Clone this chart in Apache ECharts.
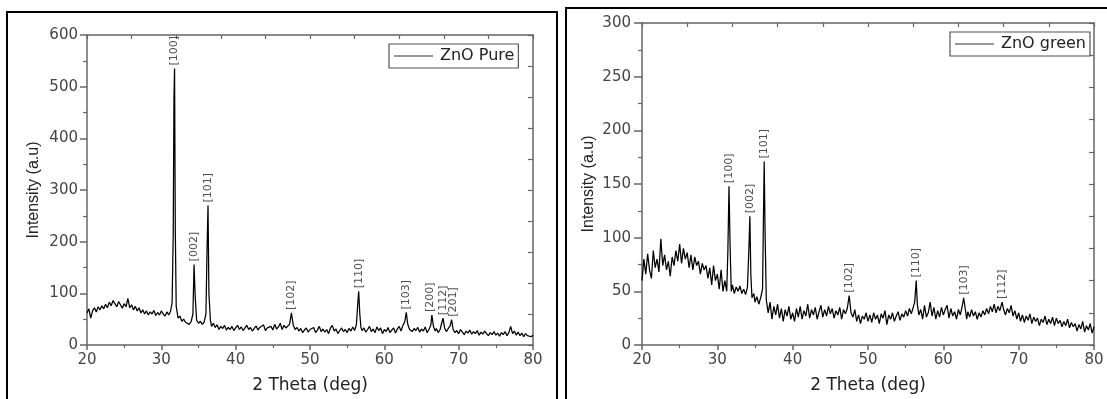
<!DOCTYPE html>
<html>
<head>
<meta charset="utf-8">
<title>ZnO XRD</title>
<script src="https://cdn.jsdelivr.net/npm/echarts@6/dist/echarts.min.js"></script>
<style>
  html, body { margin: 0; padding: 0; background: #fff; }
  #chart { width: 1107px; height: 399px; }
</style>
</head>
<body>
<div id="chart"></div>
<script>
// ZnO Pure scan (2 theta, intensity)
const pureTheta = [
  20.00, 20.25, 20.50, 20.75, 21.00, 21.25, 21.50, 21.75, 22.00, 22.25, 22.50, 22.75,
  23.00, 23.25, 23.50, 23.75, 24.00, 24.25, 24.50, 24.75, 25.00, 25.25, 25.50, 25.75,
  26.00, 26.25, 26.50, 26.75, 27.00, 27.25, 27.50, 27.75, 28.00, 28.25, 28.50, 28.75,
  29.00, 29.25, 29.50, 29.75, 30.00, 30.25, 30.50, 30.75, 31.00, 31.25, 31.45, 31.60,
  31.70, 31.78, 31.88, 32.00, 32.25, 32.50, 32.75, 33.00, 33.25, 33.50, 33.75, 34.00,
  34.25, 34.40, 34.55, 34.75, 35.00, 35.25, 35.50, 35.75, 36.00, 36.15, 36.28, 36.40,
  36.60, 36.75, 37.00, 37.25, 37.50, 37.75, 38.00, 38.25, 38.50, 38.75, 39.00, 39.25,
  39.50, 39.75, 40.00, 40.25, 40.50, 40.75, 41.00, 41.25, 41.50, 41.75, 42.00, 42.25,
  42.50, 42.75, 43.00, 43.25, 43.50, 43.75, 44.00, 44.25, 44.50, 44.75, 45.00, 45.25,
  45.50, 45.75, 46.00, 46.25, 46.50, 46.75, 47.00, 47.25, 47.50, 47.75, 48.00, 48.25,
  48.50, 48.75, 49.00, 49.25, 49.50, 49.75, 50.00, 50.25, 50.50, 50.75, 51.00, 51.25,
  51.50, 51.75, 52.00, 52.25, 52.50, 52.75, 53.00, 53.25, 53.50, 53.75, 54.00, 54.25,
  54.50, 54.75, 55.00, 55.25, 55.50, 55.75, 56.00, 56.25, 56.40, 56.55, 56.70, 56.85,
  57.00, 57.25, 57.50, 57.75, 58.00, 58.25, 58.50, 58.75, 59.00, 59.25, 59.50, 59.75,
  60.00, 60.25, 60.50, 60.75, 61.00, 61.25, 61.50, 61.75, 62.00, 62.25, 62.50, 62.75,
  62.95, 63.15, 63.40, 63.75, 64.00, 64.25, 64.50, 64.75, 65.00, 65.25, 65.50, 65.75,
  66.00, 66.25, 66.40, 66.60, 66.85, 67.00, 67.25, 67.50, 67.75, 67.90, 68.10, 68.35,
  68.60, 68.85, 69.05, 69.25, 69.50, 69.75, 70.00, 70.25, 70.50, 70.75, 71.00, 71.25,
  71.50, 71.75, 72.00, 72.25, 72.50, 72.75, 73.00, 73.25, 73.50, 73.75, 74.00, 74.25,
  74.50, 74.75, 75.00, 75.25, 75.50, 75.75, 76.00, 76.25, 76.50, 76.75, 77.00, 77.25,
  77.50, 77.75, 78.00, 78.25, 78.50, 78.75, 79.00, 79.25, 79.50, 79.75, 80.00
];
const pureIntensity = [
  62, 70, 52, 66, 72, 64, 74, 68, 76, 70, 79, 72,
  83, 76, 86, 80, 74, 84, 78, 71, 80, 74, 90, 72,
  78, 68, 75, 66, 72, 62, 68, 60, 66, 58, 64, 60,
  67, 57, 63, 58, 66, 60, 56, 64, 58, 66, 82, 215,
  480, 535, 220, 75, 52, 56, 46, 50, 44, 47, 40, 45,
  60, 156, 95, 48, 42, 46, 40, 44, 60, 185, 270, 100,
  48, 36, 42, 34, 39, 30, 36, 32, 38, 29, 34, 30,
  36, 28, 33, 38, 30, 35, 28, 33, 38, 30, 34, 27,
  32, 37, 29, 34, 31, 39, 28, 33, 30, 36, 29, 40,
  31, 35, 42, 30, 38, 33, 36, 40, 62, 38, 30, 34,
  27, 32, 24, 29, 33, 25, 30, 27, 34, 24, 29, 36,
  26, 31, 25, 30, 22, 33, 38, 27, 31, 22, 28, 33,
  26, 30, 24, 32, 27, 35, 28, 40, 75, 104, 60, 34,
  28, 33, 25, 30, 36, 26, 31, 24, 35, 28, 33, 22,
  30, 26, 34, 24, 29, 33, 23, 31, 36, 27, 38, 45,
  63, 40, 30, 26, 32, 28, 34, 25, 31, 27, 35, 24,
  30, 38, 58, 36, 27, 32, 24, 30, 44, 52, 33, 26,
  32, 37, 49, 30, 24, 28, 22, 30, 25, 20, 27, 23,
  29, 21, 26, 22, 28, 19, 25, 21, 27, 22, 18, 24,
  20, 26, 19, 23, 17, 24, 20, 26, 18, 24, 36, 22,
  27, 19, 25, 18, 23, 16, 22, 18, 21, 16, 19
];
const pureHkl = ['[100]', '[002]', '[101]', '[102]', '[110]', '[103]', '[200]', '[112]', '[201]'];
const pureHklTheta = [31.78, 34.40, 36.28, 47.50, 56.55, 62.95, 66.10, 67.90, 69.20];
const pureHklPeak = [535, 156, 270, 62, 104, 63, 58, 52, 49];

// ZnO green scan (2 theta, intensity)
const greenTheta = [
  20.00, 20.25, 20.50, 20.75, 21.00, 21.25, 21.50, 21.75, 22.00, 22.25, 22.50, 22.75,
  23.00, 23.25, 23.50, 23.75, 24.00, 24.25, 24.50, 24.75, 25.00, 25.25, 25.50, 25.75,
  26.00, 26.25, 26.50, 26.75, 27.00, 27.25, 27.50, 27.75, 28.00, 28.25, 28.50, 28.75,
  29.00, 29.25, 29.50, 29.75, 30.00, 30.25, 30.50, 30.75, 31.00, 31.25, 31.40, 31.55,
  31.70, 31.85, 32.00, 32.25, 32.50, 32.75, 33.00, 33.25, 33.50, 33.75, 34.00, 34.20,
  34.32, 34.45, 34.60, 34.85, 35.00, 35.25, 35.50, 35.75, 36.00, 36.12, 36.22, 36.35,
  36.50, 36.75, 37.00, 37.25, 37.50, 37.75, 38.00, 38.25, 38.50, 38.75, 39.00, 39.25,
  39.50, 39.75, 40.00, 40.25, 40.50, 40.75, 41.00, 41.25, 41.50, 41.75, 42.00, 42.25,
  42.50, 42.75, 43.00, 43.25, 43.50, 43.75, 44.00, 44.25, 44.50, 44.75, 45.00, 45.25,
  45.50, 45.75, 46.00, 46.25, 46.50, 46.75, 47.00, 47.25, 47.50, 47.75, 48.00, 48.25,
  48.50, 48.75, 49.00, 49.25, 49.50, 49.75, 50.00, 50.25, 50.50, 50.75, 51.00, 51.25,
  51.50, 51.75, 52.00, 52.25, 52.50, 52.75, 53.00, 53.25, 53.50, 53.75, 54.00, 54.25,
  54.50, 54.75, 55.00, 55.25, 55.50, 55.75, 56.00, 56.20, 56.40, 56.55, 56.75, 57.00,
  57.25, 57.50, 57.75, 58.00, 58.25, 58.50, 58.75, 59.00, 59.25, 59.50, 59.75, 60.00,
  60.25, 60.50, 60.75, 61.00, 61.25, 61.50, 61.75, 62.00, 62.25, 62.50, 62.70, 62.90,
  63.10, 63.25, 63.50, 63.75, 64.00, 64.25, 64.50, 64.75, 65.00, 65.25, 65.50, 65.75,
  66.00, 66.25, 66.50, 66.75, 67.00, 67.25, 67.50, 67.80, 68.00, 68.25, 68.50, 68.75,
  69.00, 69.25, 69.50, 69.75, 70.00, 70.25, 70.50, 70.75, 71.00, 71.25, 71.50, 71.75,
  72.00, 72.25, 72.50, 72.75, 73.00, 73.25, 73.50, 73.75, 74.00, 74.25, 74.50, 74.75,
  75.00, 75.25, 75.50, 75.75, 76.00, 76.25, 76.50, 76.75, 77.00, 77.25, 77.50, 77.75,
  78.00, 78.25, 78.50, 78.75, 79.00, 79.25, 79.50, 79.75, 80.00
];
const greenIntensity = [
  60, 80, 66, 85, 70, 62, 88, 72, 80, 68, 99, 74,
  84, 70, 78, 64, 82, 74, 88, 78, 94, 76, 90, 80,
  86, 72, 84, 70, 82, 74, 78, 66, 76, 70, 74, 62,
  72, 56, 74, 60, 66, 52, 70, 50, 60, 50, 88, 148,
  90, 50, 56, 48, 54, 50, 55, 48, 52, 47, 54, 92,
  120, 65, 44, 48, 40, 45, 38, 44, 52, 117, 171, 100,
  42, 30, 40, 24, 36, 28, 38, 25, 34, 22, 33, 27,
  36, 24, 30, 22, 34, 26, 36, 24, 32, 27, 38, 25,
  33, 28, 35, 24, 31, 37, 26, 33, 27, 36, 29, 34,
  25, 32, 28, 35, 24, 33, 29, 34, 46, 30, 26, 33,
  22, 28, 20, 27, 24, 30, 22, 28, 21, 30, 24, 28,
  20, 29, 25, 32, 19, 28, 24, 30, 22, 27, 31, 23,
  29, 26, 32, 27, 34, 29, 35, 40, 60, 38, 28, 33,
  24, 37, 26, 30, 40, 27, 35, 24, 32, 26, 35, 28,
  33, 37, 25, 34, 27, 31, 24, 33, 28, 36, 44, 34,
  24, 31, 26, 33, 27, 31, 24, 30, 26, 32, 28, 34,
  29, 36, 31, 38, 30, 36, 32, 40, 33, 28, 34, 30,
  37, 27, 32, 24, 30, 22, 28, 21, 27, 23, 29, 20,
  26, 22, 25, 18, 24, 21, 27, 19, 24, 20, 26, 18,
  25, 20, 23, 17, 22, 18, 24, 16, 21, 17, 20, 13,
  19, 15, 22, 12, 18, 14, 20, 11, 17
];
const greenHkl = ['[100]', '[002]', '[101]', '[102]', '[110]', '[103]', '[112]'];
const greenHklTheta = [31.55, 34.32, 36.22, 47.50, 56.40, 62.70, 67.80];
const greenHklPeak = [148, 120, 171, 46, 60, 44, 40];

const axisColor = '#666';
const tickFont = { fontFamily: 'DejaVu Sans', fontSize: 15, color: '#444' };

function pairs(xs, ys) {
  return xs.map((x, i) => [x, ys[i]]);
}

function hklPoints(names, xs, ys) {
  return names.map((n, i) => ({ name: n, value: [xs[i], ys[i]] }));
}

function mainX(gridIndex, tickLen) {
  return {
    type: 'value', gridIndex: gridIndex, position: 'bottom',
    min: 20, max: 80, interval: 10,
    name: '2 Theta (deg)', nameLocation: 'middle', nameGap: 32,
    nameTextStyle: { fontFamily: 'DejaVu Sans', fontSize: 17, color: '#222' },
    axisLine: { show: true, onZero: false, lineStyle: { color: axisColor, width: 1.5 } },
    axisTick: { show: true, inside: false, length: tickLen, lineStyle: { color: axisColor, width: 1.5 } },
    minorTick: { show: true, splitNumber: 2, length: 3, lineStyle: { color: axisColor, width: 1.2 } },
    axisLabel: Object.assign({ margin: 8 }, tickFont),
    splitLine: { show: false }
  };
}

function mainY(gridIndex, max, interval, tickLen, margin) {
  return {
    type: 'value', gridIndex: gridIndex, position: 'left',
    min: 0, max: max, interval: interval,
    name: 'Intensity (a.u)', nameLocation: 'middle', nameGap: 45, nameRotate: 90,
    nameTextStyle: { fontFamily: 'Liberation Sans', fontSize: 16, color: '#222' },
    axisLine: { show: true, onZero: false, lineStyle: { color: axisColor, width: 1.5 } },
    axisTick: { show: true, inside: false, length: tickLen, lineStyle: { color: axisColor, width: 1.5 } },
    minorTick: { show: true, splitNumber: 2, length: 4, lineStyle: { color: axisColor, width: 1.2 } },
    axisLabel: Object.assign({ margin: margin }, tickFont),
    splitLine: { show: false }
  };
}

function frameX(gridIndex) {
  return {
    type: 'value', gridIndex: gridIndex, position: 'top',
    min: 0, max: 10, interval: 1,
    axisLine: { show: true, onZero: false, lineStyle: { color: axisColor, width: 1.5 } },
    axisTick: { show: true, inside: true, length: 4, lineStyle: { color: axisColor, width: 1.2 } },
    axisLabel: { show: false },
    splitLine: { show: false }
  };
}

function frameY(gridIndex) {
  return {
    type: 'value', gridIndex: gridIndex, position: 'right',
    min: 0, max: 10, interval: 1,
    axisLine: { show: true, onZero: false, lineStyle: { color: axisColor, width: 1.5 } },
    axisTick: { show: true, inside: true, length: 5, lineStyle: { color: axisColor, width: 1.2 } },
    axisLabel: { show: false },
    splitLine: { show: false }
  };
}

function scanSeries(name, xIdx, yIdx, data) {
  return {
    name: name, type: 'line', xAxisIndex: xIdx, yAxisIndex: yIdx,
    data: data, symbol: 'none', showSymbol: false,
    lineStyle: { color: '#000', width: 1.25 },
    itemStyle: { color: '#000' },
    silent: true, z: 3
  };
}

function hklSeries(xIdx, yIdx, data) {
  return {
    type: 'scatter', xAxisIndex: xIdx, yAxisIndex: yIdx,
    data: data, symbolSize: 0, silent: true, z: 4,
    label: {
      show: true, position: 'top', distance: 3, rotate: 90,
      align: 'left', verticalAlign: 'middle',
      formatter: p => p.name,
      fontFamily: 'DejaVu Sans', fontSize: 11, color: '#222'
    }
  };
}

function legendBox(name, left, top) {
  return {
    data: [name], left: left, top: top, orient: 'horizontal',
    icon: 'path://M0,0 H40 V1 H0 Z',
    itemWidth: 39, itemHeight: 1.2, itemGap: 0,
    padding: [4, 4, 4, 5],
    borderColor: '#555', borderWidth: 1.2, borderRadius: 0,
    backgroundColor: '#fff',
    itemStyle: { color: '#333' },
    textStyle: { fontFamily: 'DejaVu Sans', fontSize: 16, color: '#222', padding: [0, 0, 0, 2] },
    selectedMode: false
  };
}

const chart = echarts.init(document.getElementById('chart'), null, { renderer: 'canvas' });

const option = {
  animation: false,
  backgroundColor: '#fff',
  graphic: [
    { type: 'rect', shape: { x: 7, y: 12, width: 550, height: 420 },
      style: { fill: 'none', stroke: '#000', lineWidth: 2 }, z: 10 },
    { type: 'rect', shape: { x: 566, y: 8, width: 560, height: 420 },
      style: { fill: 'none', stroke: '#000', lineWidth: 2 }, z: 10 }
  ],
  grid: [
    { left: 87, top: 35, width: 446, height: 311, containLabel: false },
    { left: 642, top: 23, width: 452, height: 323, containLabel: false }
  ],
  legend: [
    legendBox('ZnO Pure', 389, 44),
    legendBox('ZnO green', 950, 32)
  ],
  xAxis: [mainX(0, 5), frameX(0), mainX(1, 5), frameX(1)],
  yAxis: [mainY(0, 600, 100, 7, 9), frameY(0), mainY(1, 300, 50, 8, 11), frameY(1)],
  series: [
    scanSeries('ZnO Pure', 0, 0, pairs(pureTheta, pureIntensity)),
    hklSeries(0, 0, hklPoints(pureHkl, pureHklTheta, pureHklPeak)),
    scanSeries('ZnO green', 2, 2, pairs(greenTheta, greenIntensity)),
    hklSeries(2, 2, hklPoints(greenHkl, greenHklTheta, greenHklPeak))
  ]
};

chart.setOption(option);
</script>
</body>
</html>
